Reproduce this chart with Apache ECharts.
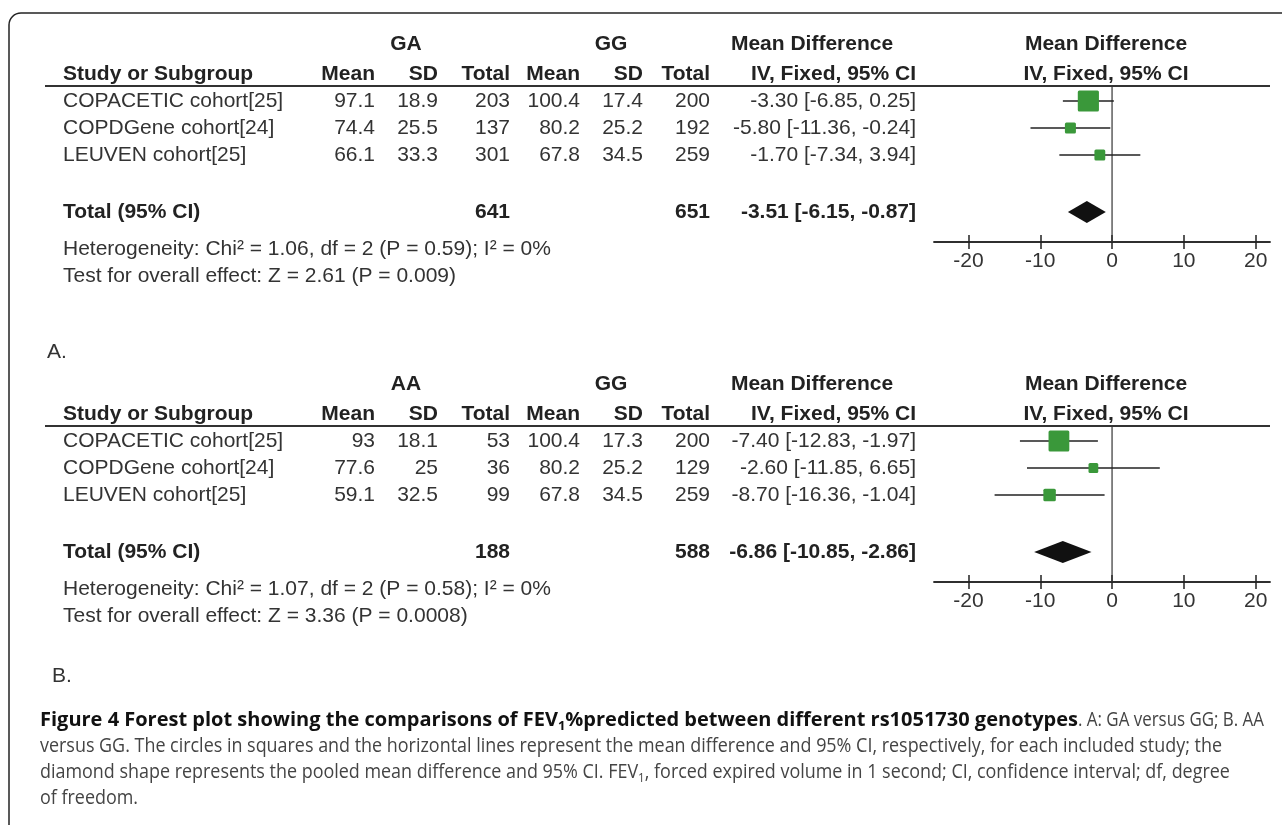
<!DOCTYPE html>
<html><head><meta charset="utf-8">
<script src="https://cdn.jsdelivr.net/npm/echarts@6/dist/echarts.min.js"></script>
<style>html,body{margin:0;padding:0;background:#fff}#c{width:1282px;height:825px}</style>
</head><body><div id="c"></div>
<script>
// ---------------- DATA ----------------
const studies = ['COPACETIC cohort[25]', 'COPDGene cohort[24]', 'LEUVEN cohort[25]'];
const colHeads = ['Study or Subgroup', 'Mean', 'SD', 'Total', 'Mean', 'SD', 'Total', 'IV, Fixed, 95% CI'];
const mdHead = 'Mean Difference';
const plotHead = 'IV, Fixed, 95% CI';
const totalLabel = 'Total (95% CI)';
const tickValues = [-20, -10, 0, 10, 20];

// Panel A: GA versus GG
const aGroups = ['GA', 'GG'];
const aExpMean = [97.1, 74.4, 66.1];
const aExpSD = [18.9, 25.5, 33.3];
const aExpN = [203, 137, 301];
const aCtlMean = [100.4, 80.2, 67.8];
const aCtlSD = [17.4, 25.2, 34.5];
const aCtlN = [200, 192, 259];
const aMD = [-3.30, -5.80, -1.70];
const aLo = [-6.85, -11.36, -7.34];
const aHi = [0.25, -0.24, 3.94];
const aWeight = [55.3, 22.6, 22.1];
const aTotalN = [641, 651];
const aTotal = [-3.51, -6.15, -0.87];
const aHet = 'Heterogeneity: Chi\u00b2 = 1.06, df = 2 (P = 0.59); I\u00b2 = 0%';
const aTest = 'Test for overall effect: Z = 2.61 (P = 0.009)';

// Panel B: AA versus GG
const bGroups = ['AA', 'GG'];
const bExpMean = [93, 77.6, 59.1];
const bExpSD = [18.1, 25, 32.5];
const bExpN = [53, 36, 99];
const bCtlMean = [100.4, 80.2, 67.8];
const bCtlSD = [17.3, 25.2, 34.5];
const bCtlN = [200, 129, 259];
const bMD = [-7.40, -2.60, -8.70];
const bLo = [-12.83, -11.85, -16.36];
const bHi = [-1.97, 6.65, -1.04];
const bWeight = [54.1, 18.6, 27.3];
const bTotalN = [188, 588];
const bTotal = [-6.86, -10.85, -2.86];
const bHet = 'Heterogeneity: Chi\u00b2 = 1.07, df = 2 (P = 0.58); I\u00b2 = 0%';
const bTest = 'Test for overall effect: Z = 3.36 (P = 0.0008)';

const panelLabels = ['A.', 'B.'];

// caption tokens: [text, bold, subscript]
const captionLead = [['Figure 4 Forest plot showing the comparisons of FEV', 1, 0], ['1', 1, 1], ['%predicted between different rs1051730 genotypes', 1, 0]];
const captionLines = [
  [['. A: GA versus GG; B. AA', 0, 0]],
  [['versus GG. The circles in squares and the horizontal lines represent the mean difference and 95% CI, respectively, for each included study; the', 0, 0]],
  [['diamond shape represents the pooled mean difference and 95% CI. FEV', 0, 0], ['1', 0, 1], [', forced expired volume in 1 second; CI, confidence interval; df, degree', 0, 0]],
  [['of freedom.', 0, 0]]
];

// ---------------- LAYOUT ----------------
const FONT = "'Liberation Sans', Arial, sans-serif";
const CAP_FONT = "'Open Sans', 'Noto Sans', sans-serif";
const FS = 21;
const CAP_FS = 20, CAP_SUB_FS = 13;
const OFFS = [0, 340];
const ROW_OFF = [15, 42, 69];
const TOTAL_OFF = 126;
const PLOT_H = 156;
const LINE_Y = 86;
const COLX = [63, 375, 438, 510, 580, 643, 710, 916];
const GROUPX = [406, 611];
const MDX = 812;
const PLOT_CX = 1106;
const X_MIN = -24.8, X_MAX = 22;
const GRID_LEFT = 934, GRID_W = 336;
const CAP_X = 40, CAP_Y0 = 720, CAP_PITCH = 26;
const LEAD_END = 1078, LINE1_END = 1264, LINE2_END = 1222;

const panels = [
  {groups: aGroups, em: aExpMean, es: aExpSD, en: aExpN, cm: aCtlMean, cs: aCtlSD, cn: aCtlN,
   md: aMD, lo: aLo, hi: aHi, w: aWeight, tn: aTotalN, tot: aTotal, het: aHet, test: aTest},
  {groups: bGroups, em: bExpMean, es: bExpSD, en: bExpN, cm: bCtlMean, cs: bCtlSD, cn: bCtlN,
   md: bMD, lo: bLo, hi: bHi, w: bWeight, tn: bTotalN, tot: bTotal, het: bHet, test: bTest}
];

function txt(x, y, text, o) {
  o = o || {};
  return {type: 'text', x: x, y: y, silent: true, z: 10,
    style: {text: text, fill: o.fill || '#333', fontSize: o.fs || FS, fontFamily: o.ff || FONT,
      fontWeight: o.bold ? 'bold' : 'normal', align: o.align || 'left', verticalAlign: 'middle',
      textAlign: o.align || 'left', textVerticalAlign: 'middle'}};
}
function fmt(v) { return v.toFixed(2); }
function ciText(m, l, h) { return fmt(m) + ' [' + fmt(l) + ', ' + fmt(h) + ']'; }

const graphics = [];
const bst = {stroke: '#222', lineWidth: 1.5, fill: null};
graphics.push({type: 'line', silent: true, shape: {x1: 9, y1: 825, x2: 9, y2: 25}, style: bst});
graphics.push({type: 'line', silent: true, shape: {x1: 21, y1: 13, x2: 1282, y2: 13}, style: bst});
graphics.push({type: 'arc', silent: true, shape: {cx: 21, cy: 25, r: 12, startAngle: Math.PI, endAngle: Math.PI * 1.5, clockwise: true}, style: bst});

panels.forEach(function (p, k) {
  const off = OFFS[k];
  const hb = {bold: true, fill: '#222'};
  graphics.push(txt(GROUPX[0], 44 + off, p.groups[0], Object.assign({align: 'center'}, hb)));
  graphics.push(txt(GROUPX[1], 44 + off, p.groups[1], Object.assign({align: 'center'}, hb)));
  graphics.push(txt(MDX, 44 + off, mdHead, Object.assign({align: 'center'}, hb)));
  graphics.push(txt(PLOT_CX, 44 + off, mdHead, Object.assign({align: 'center'}, hb)));
  colHeads.forEach(function (h, i) {
    graphics.push(txt(COLX[i], 74 + off, h, Object.assign({align: i === 0 ? 'left' : 'right'}, hb)));
  });
  graphics.push(txt(PLOT_CX, 74 + off, plotHead, Object.assign({align: 'center'}, hb)));
  graphics.push({type: 'line', silent: true, shape: {x1: 45, y1: LINE_Y + off, x2: 1270, y2: LINE_Y + off},
    style: {stroke: '#333', lineWidth: 2}});
  studies.forEach(function (s, i) {
    const y = LINE_Y + off + ROW_OFF[i];
    const vals = [s, String(p.em[i]), String(p.es[i]), String(p.en[i]), String(p.cm[i]), String(p.cs[i]), String(p.cn[i]), ciText(p.md[i], p.lo[i], p.hi[i])];
    vals.forEach(function (v, j) {
      graphics.push(txt(COLX[j], y, v, {align: j === 0 ? 'left' : 'right'}));
    });
  });
  const ty = LINE_Y + off + TOTAL_OFF;
  graphics.push(txt(COLX[0], ty, totalLabel, hb));
  graphics.push(txt(COLX[3], ty, String(p.tn[0]), Object.assign({align: 'right'}, hb)));
  graphics.push(txt(COLX[6], ty, String(p.tn[1]), Object.assign({align: 'right'}, hb)));
  graphics.push(txt(COLX[7], ty, ciText(p.tot[0], p.tot[1], p.tot[2]), Object.assign({align: 'right'}, hb)));
  graphics.push(txt(COLX[0], 249 + off, p.het));
  graphics.push(txt(COLX[0], 276 + off, p.test));
});
graphics.push(txt(47, 352, panelLabels[0]));
graphics.push(txt(52, 676, panelLabels[1]));

// caption: measured so the condensed look of the original is kept
const mctx = document.createElement('canvas').getContext('2d');
function tokWidth(t) {
  mctx.font = (t[1] ? 'bold ' : '') + (t[2] ? CAP_SUB_FS : CAP_FS) + 'px ' + CAP_FONT;
  return mctx.measureText(t[0]).width;
}
function lineWidth(line) { return line.reduce(function (s, t) { return s + tokWidth(t); }, 0); }
const capRich = {
  b: {fontFamily: CAP_FONT, fontSize: CAP_FS, fontWeight: 'bold', fill: '#111', lineHeight: CAP_PITCH},
  bs: {fontFamily: CAP_FONT, fontSize: CAP_SUB_FS, fontWeight: 'bold', fill: '#111', verticalAlign: 'bottom'},
  r: {fontFamily: CAP_FONT, fontSize: CAP_FS, fill: '#444', lineHeight: CAP_PITCH},
  rs: {fontFamily: CAP_FONT, fontSize: CAP_SUB_FS, fill: '#444', verticalAlign: 'bottom'}
};
function richStr(line) {
  return line.map(function (t) { return '{' + (t[1] ? 'b' : 'r') + (t[2] ? 's' : '') + '|' + t[0] + '}'; }).join('');
}
function capText(x, y, line, sx) {
  return {type: 'text', x: x, y: y, silent: true, scaleX: sx, originX: 0, originY: 0,
    style: {text: richStr(line), rich: capRich, verticalAlign: 'middle', textVerticalAlign: 'middle', fill: '#444', fontSize: CAP_FS, fontFamily: CAP_FONT}};
}
const leadScale = (LEAD_END - CAP_X) / lineWidth(captionLead);
const l1Scale = (LINE1_END - LEAD_END) / lineWidth(captionLines[0]);
const bodyScale = (LINE2_END - CAP_X) / lineWidth(captionLines[1]);
graphics.push(capText(CAP_X, CAP_Y0, captionLead, leadScale));
graphics.push(capText(LEAD_END, CAP_Y0, captionLines[0], l1Scale));
for (let i = 1; i < captionLines.length; i++) {
  graphics.push(capText(CAP_X, CAP_Y0 + i * CAP_PITCH, captionLines[i], bodyScale));
}

// ---------------- CHART ----------------
const chart = echarts.init(document.getElementById('c'), null, {renderer: 'canvas'});
const grids = [], xAxes = [], yAxes = [], series = [];
panels.forEach(function (p, k) {
  const off = OFFS[k];
  grids.push({left: GRID_LEFT, top: LINE_Y + off, width: GRID_W, height: PLOT_H, containLabel: false, outerBoundsMode: 'none'});
  const axLine = {show: true, onZero: false, lineStyle: {color: '#222', width: 1.5}};
  xAxes.push({type: 'value', gridIndex: k, min: X_MIN, max: X_MAX, position: 'bottom', axisLine: axLine,
    axisTick: {show: true, inside: true, length: 7, customValues: tickValues, lineStyle: {color: '#222', width: 1.5}},
    axisLabel: {show: true, customValues: tickValues, fontSize: FS, color: '#333', fontFamily: FONT, margin: 9, hideOverlap: false},
    splitLine: {show: false}});
  xAxes.push({type: 'value', gridIndex: k, min: X_MIN, max: X_MAX, position: 'bottom', offset: 0, axisLine: axLine,
    axisTick: {show: true, inside: false, length: 7, customValues: tickValues, lineStyle: {color: '#222', width: 1.5}},
    axisLabel: {show: false}, splitLine: {show: false}});
  yAxes.push({type: 'value', gridIndex: k, min: 0, max: PLOT_H, inverse: true, show: false});
  const xi = k * 2;
  series.push({type: 'custom', xAxisIndex: xi, yAxisIndex: k, silent: true, data: [[0, 0, PLOT_H]],
    renderItem: function (params, api) {
      const a = api.coord([api.value(0), api.value(1)]);
      const b = api.coord([api.value(0), api.value(2)]);
      return {type: 'line', shape: {x1: a[0], y1: a[1], x2: b[0], y2: b[1]}, style: {stroke: '#333', lineWidth: 1.2}};
    }});
  series.push({type: 'custom', xAxisIndex: xi, yAxisIndex: k, silent: true, clip: false,
    data: studies.map(function (s, i) { return [p.md[i], p.lo[i], p.hi[i], ROW_OFF[i], p.w[i]]; }),
    encode: {x: [0, 1, 2], y: 3},
    renderItem: function (params, api) {
      const y = api.value(3);
      const c = api.coord([api.value(0), y]);
      const l = api.coord([api.value(1), y]);
      const h = api.coord([api.value(2), y]);
      const side = 4 + 0.31 * api.value(4);
      return {type: 'group', children: [
        {type: 'line', shape: {x1: l[0], y1: l[1], x2: h[0], y2: h[1]}, style: {stroke: '#222', lineWidth: 1.6}},
        {type: 'rect', shape: {x: c[0] - side / 2, y: c[1] - side / 2, width: side, height: side, r: 1.5}, style: {fill: '#3a983a'}}
      ]};
    }});
  series.push({type: 'custom', xAxisIndex: xi, yAxisIndex: k, silent: true, clip: false,
    data: [[p.tot[0], p.tot[1], p.tot[2], TOTAL_OFF]],
    encode: {x: [0, 1, 2], y: 3},
    renderItem: function (params, api) {
      const y = api.value(3);
      const c = api.coord([api.value(0), y]);
      const l = api.coord([api.value(1), y]);
      const h = api.coord([api.value(2), y]);
      return {type: 'polygon', shape: {points: [[l[0], l[1]], [c[0], c[1] - 11], [h[0], h[1]], [c[0], c[1] + 11]]},
        style: {fill: '#111'}};
    }});
});

chart.setOption({
  animation: false,
  backgroundColor: '#fff',
  grid: grids, xAxis: xAxes, yAxis: yAxes, series: series,
  graphic: {elements: graphics}
});
</script></body></html>
